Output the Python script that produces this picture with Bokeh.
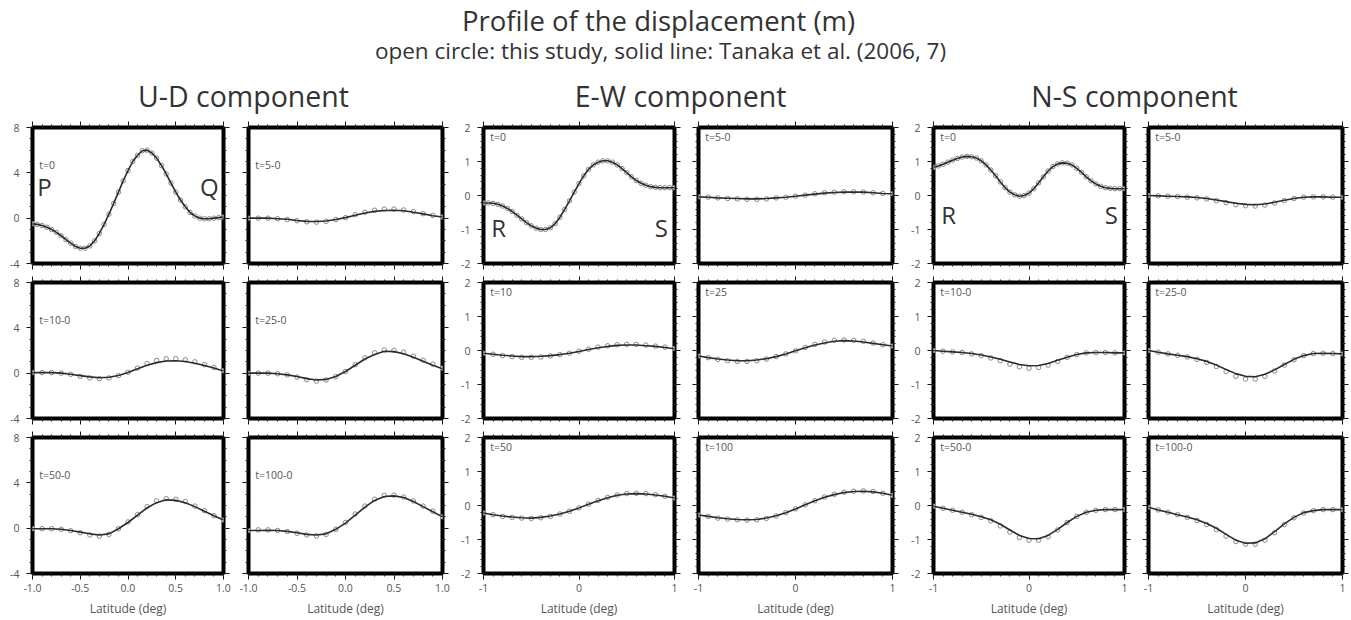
import numpy as np
from bokeh.plotting import figure
from bokeh.models import LinearAxis, FixedTicker, Range1d, PrintfTickFormatter
from bokeh.layouts import row, column
from bokeh.embed import file_html
from bokeh.resources import INLINE
from bokeh.core.properties import value

FONT = "Open Sans"

# ---------------- data ----------------
lat21 = [-1.0, -0.9, -0.8, -0.7, -0.6, -0.5, -0.4, -0.3, -0.2, -0.1, 0.0,
         0.1, 0.2, 0.3, 0.4, 0.5, 0.6, 0.7, 0.8, 0.9, 1.0]
lat41 = [-1.0, -0.95, -0.9, -0.85, -0.8, -0.75, -0.7, -0.65, -0.6, -0.55, -0.5,
         -0.45, -0.4, -0.35, -0.3, -0.25, -0.2, -0.15, -0.1, -0.05, 0.0,
         0.05, 0.1, 0.15, 0.2, 0.25, 0.3, 0.35, 0.4, 0.45, 0.5,
         0.55, 0.6, 0.65, 0.7, 0.75, 0.8, 0.85, 0.9, 0.95, 1.0]

# U-D component (m)
ud_t0 = [-0.5, -0.55, -0.65, -0.8, -1.0, -1.25, -1.55, -1.9, -2.2, -2.5, -2.65,
         -2.65, -2.45, -2.0, -1.35, -0.55, 0.35, 1.3, 2.3, 3.3, 4.2,
         5.0, 5.55, 5.95, 6.0, 5.75, 5.3, 4.65, 3.9, 3.1, 2.3,
         1.6, 1.0, 0.5, 0.2, 0.0, -0.05, -0.05, 0.0, 0.05, 0.1]
ud_t5_line = [0.0, 0.0, 0.0, -0.05, -0.1, -0.2, -0.28, -0.3, -0.25, -0.12, 0.05,
              0.25, 0.45, 0.6, 0.68, 0.7, 0.65, 0.52, 0.38, 0.22, 0.1]
ud_t5_obs = [0.0, 0.0, 0.0, -0.05, -0.12, -0.22, -0.32, -0.35, -0.28, -0.12, 0.05,
             0.3, 0.52, 0.7, 0.8, 0.8, 0.72, 0.58, 0.4, 0.25, 0.1]
ud_t10_line = [0.05, 0.05, 0.05, 0.0, -0.1, -0.22, -0.33, -0.4, -0.36, -0.2, 0.05,
               0.38, 0.7, 0.93, 1.07, 1.1, 1.03, 0.88, 0.68, 0.45, 0.2]
ud_t10_obs = [0.05, 0.05, 0.05, 0.0, -0.1, -0.28, -0.42, -0.48, -0.42, -0.22, 0.08,
              0.45, 0.85, 1.12, 1.27, 1.28, 1.18, 1.0, 0.75, 0.5, 0.22]
ud_t25_line = [0.0, 0.0, 0.0, -0.05, -0.15, -0.3, -0.48, -0.6, -0.55, -0.3, 0.15,
               0.7, 1.25, 1.65, 1.93, 1.9, 1.72, 1.4, 1.05, 0.7, 0.4]
ud_t25_obs = [0.0, 0.0, 0.0, -0.05, -0.15, -0.35, -0.58, -0.7, -0.6, -0.3, 0.15,
              0.75, 1.35, 1.8, 2.05, 2.02, 1.85, 1.5, 1.15, 0.8, 0.45]
ud_t50_line = [-0.05, -0.05, -0.05, -0.1, -0.2, -0.35, -0.5, -0.6, -0.5, -0.05, 0.5,
               1.15, 1.8, 2.25, 2.5, 2.45, 2.25, 1.9, 1.5, 1.1, 0.72]
ud_t50_obs = [-0.05, -0.05, -0.05, -0.1, -0.22, -0.4, -0.6, -0.7, -0.55, -0.05, 0.55,
              1.2, 1.9, 2.4, 2.6, 2.55, 2.35, 1.95, 1.55, 1.1, 0.72]
ud_t100_line = [-0.2, -0.2, -0.18, -0.2, -0.28, -0.4, -0.55, -0.6, -0.5, -0.1, 0.45,
                1.15, 1.85, 2.45, 2.8, 2.85, 2.7, 2.35, 1.9, 1.45, 1.0]
ud_t100_obs = [-0.2, -0.15, -0.15, -0.2, -0.3, -0.45, -0.6, -0.68, -0.55, -0.1, 0.5,
               1.25, 1.95, 2.55, 2.9, 2.92, 2.75, 2.4, 1.95, 1.5, 1.0]

# E-W component (m)
ew_t0 = [-0.22, -0.22, -0.23, -0.26, -0.31, -0.38, -0.47, -0.58, -0.69, -0.8, -0.89,
         -0.96, -1.0, -1.0, -0.95, -0.83, -0.64, -0.41, -0.16, 0.1, 0.35,
         0.58, 0.77, 0.9, 0.98, 1.02, 1.02, 0.98, 0.9, 0.79, 0.67,
         0.55, 0.44, 0.36, 0.3, 0.26, 0.24, 0.23, 0.23, 0.23, 0.23]
ew_t5_line = [-0.04, -0.05, -0.07, -0.08, -0.09, -0.1, -0.1, -0.09, -0.07, -0.05, -0.02,
              0.01, 0.04, 0.07, 0.09, 0.1, 0.1, 0.1, 0.08, 0.06, 0.05]
ew_t5_obs = [-0.04, -0.05, -0.07, -0.09, -0.1, -0.11, -0.11, -0.1, -0.07, -0.05, -0.02,
             0.01, 0.05, 0.08, 0.1, 0.11, 0.11, 0.1, 0.08, 0.06, 0.05]
ew_t10_line = [-0.08, -0.11, -0.14, -0.16, -0.18, -0.18, -0.17, -0.15, -0.12, -0.08, -0.03,
               0.03, 0.08, 0.12, 0.15, 0.16, 0.16, 0.14, 0.12, 0.09, 0.05]
ew_t10_obs = [-0.08, -0.11, -0.15, -0.18, -0.2, -0.2, -0.19, -0.16, -0.12, -0.08, -0.02,
              0.04, 0.1, 0.14, 0.17, 0.18, 0.18, 0.16, 0.13, 0.1, 0.06]
ew_t25_line = [-0.16, -0.21, -0.25, -0.28, -0.3, -0.3, -0.28, -0.24, -0.18, -0.1, -0.01,
               0.08, 0.16, 0.22, 0.27, 0.29, 0.28, 0.25, 0.21, 0.17, 0.13]
ew_t25_obs = [-0.16, -0.21, -0.26, -0.3, -0.32, -0.32, -0.3, -0.25, -0.18, -0.1, -0.01,
              0.09, 0.18, 0.25, 0.3, 0.31, 0.3, 0.27, 0.22, 0.17, 0.13]
ew_t50_line = [-0.22, -0.27, -0.31, -0.34, -0.36, -0.37, -0.35, -0.31, -0.25, -0.17, -0.07,
               0.04, 0.14, 0.23, 0.3, 0.34, 0.35, 0.34, 0.31, 0.27, 0.22]
ew_t50_obs = [-0.22, -0.27, -0.32, -0.35, -0.37, -0.38, -0.36, -0.32, -0.25, -0.17, -0.07,
              0.04, 0.15, 0.24, 0.31, 0.35, 0.36, 0.35, 0.32, 0.27, 0.22]
ew_t100_line = [-0.28, -0.32, -0.36, -0.39, -0.41, -0.42, -0.41, -0.37, -0.3, -0.21, -0.1,
                0.02, 0.14, 0.24, 0.32, 0.38, 0.41, 0.42, 0.4, 0.36, 0.3]
ew_t100_obs = [-0.28, -0.32, -0.37, -0.4, -0.42, -0.43, -0.42, -0.38, -0.31, -0.21, -0.1,
               0.02, 0.14, 0.25, 0.33, 0.39, 0.42, 0.43, 0.41, 0.36, 0.3]

# N-S component (m)
ns_t0 = [0.83, 0.87, 0.92, 0.98, 1.04, 1.09, 1.13, 1.15, 1.14, 1.1, 1.02,
         0.9, 0.75, 0.58, 0.4, 0.23, 0.1, 0.02, -0.02, 0.0, 0.07,
         0.2, 0.37, 0.55, 0.72, 0.85, 0.93, 0.96, 0.95, 0.9, 0.8,
         0.68, 0.55, 0.43, 0.34, 0.27, 0.23, 0.21, 0.2, 0.2, 0.2]
ns_t5_line = [0.0, -0.01, -0.02, -0.03, -0.04, -0.06, -0.09, -0.13, -0.18, -0.23, -0.26,
              -0.27, -0.25, -0.2, -0.14, -0.09, -0.05, -0.04, -0.04, -0.05, -0.05]
ns_t5_obs = [0.0, -0.01, -0.02, -0.03, -0.05, -0.07, -0.1, -0.15, -0.21, -0.27, -0.3,
             -0.31, -0.28, -0.22, -0.15, -0.09, -0.05, -0.04, -0.04, -0.05, -0.05]
ns_t10_line = [0.0, -0.02, -0.04, -0.06, -0.09, -0.13, -0.19, -0.26, -0.34, -0.41, -0.45,
               -0.44, -0.38, -0.29, -0.2, -0.12, -0.07, -0.06, -0.06, -0.07, -0.07]
ns_t10_obs = [0.0, -0.02, -0.04, -0.06, -0.1, -0.15, -0.22, -0.3, -0.4, -0.48, -0.52,
              -0.5, -0.43, -0.32, -0.2, -0.12, -0.07, -0.06, -0.06, -0.07, -0.07]
ns_t25_line = [0.0, -0.05, -0.1, -0.14, -0.18, -0.24, -0.32, -0.43, -0.56, -0.68, -0.76,
               -0.77, -0.7, -0.57, -0.41, -0.26, -0.15, -0.09, -0.08, -0.09, -0.1]
ns_t25_obs = [0.0, -0.05, -0.1, -0.14, -0.19, -0.26, -0.35, -0.47, -0.62, -0.76, -0.84,
              -0.84, -0.76, -0.6, -0.43, -0.27, -0.15, -0.09, -0.08, -0.09, -0.1]
ns_t50_line = [-0.02, -0.08, -0.14, -0.2, -0.26, -0.33, -0.42, -0.55, -0.72, -0.88, -0.97,
               -0.98, -0.88, -0.7, -0.5, -0.32, -0.2, -0.14, -0.12, -0.12, -0.12]
ns_t50_obs = [-0.02, -0.08, -0.14, -0.2, -0.27, -0.35, -0.45, -0.6, -0.78, -0.94, -1.02,
              -1.02, -0.92, -0.72, -0.5, -0.32, -0.2, -0.14, -0.12, -0.12, -0.12]
ns_t100_line = [-0.05, -0.13, -0.2, -0.27, -0.34, -0.42, -0.53, -0.67, -0.85, -1.02, -1.11,
                -1.1, -0.98, -0.77, -0.54, -0.35, -0.21, -0.15, -0.12, -0.12, -0.12]
ns_t100_obs = [-0.05, -0.13, -0.2, -0.27, -0.35, -0.44, -0.56, -0.71, -0.9, -1.06, -1.14,
               -1.14, -1.02, -0.8, -0.56, -0.36, -0.22, -0.15, -0.12, -0.12, -0.12]

# tick labels / texts
ud_yticks = [-4, 0, 4, 8]
ud_xticks = [-1.0, -0.5, 0.0, 0.5, 1.0]
hz_yticks = [-2, -1, 0, 1, 2]
hz_xticks = [-1, 0, 1]

title = "Profile of the displacement (m)"
subtitle = "open circle: this study, solid line: Tanaka et al. (2006, 7)"
comp_titles = ["U-D component", "E-W component", "N-S component"]

# ---------------- layout geometry ----------------
col_w = [235, 221, 230, 220, 230, 215]
col_lr = [(32, 12), (13, 14), (27, 12), (12, 14), (27, 12), (12, 9)]
row_h = [158, 155, 191]
row_tb = [(12, 10), (9, 10), (9, 46)]
HEADER_H = 115

LINE_C = "#2b2b2b"
CIRC_C = "#8a8a8a"
TXT_C = "#555555"


def make_axis(side, ticks, minor, fmt, labels, axis_label=None):
    ax = LinearAxis(ticker=FixedTicker(ticks=ticks, minor_ticks=minor),
                    formatter=PrintfTickFormatter(format=fmt))
    ax.axis_line_color = None
    ax.major_tick_line_color = "#111111"
    ax.major_tick_line_width = 1
    ax.major_tick_out = 6
    ax.major_tick_in = 0
    ax.minor_tick_line_color = "#222222"
    ax.minor_tick_line_width = 1
    ax.minor_tick_out = 3
    ax.minor_tick_in = 0
    if labels:
        ax.major_label_text_font = FONT
        ax.major_label_text_font_size = "10.5px"
        ax.major_label_text_color = TXT_C
        ax.major_label_standoff = 4 if side == "below" else 7
    else:
        ax.major_label_text_font_size = "1px"
        ax.major_label_text_color = None
        ax.major_label_standoff = 0
    if axis_label:
        ax.axis_label = axis_label
        ax.axis_label_text_font = FONT
        ax.axis_label_text_font_size = "12px"
        ax.axis_label_text_font_style = "normal"
        ax.axis_label_text_color = TXT_C
        ax.axis_label_standoff = 5
    return ax


comp_cfg = {
    "UD": dict(yr=(-4, 8), yt=ud_yticks, ym=list(np.arange(-4, 8.01, 1.0)),
               xt=ud_xticks, xfmt="%.1f", yfmt="%d", label_y=4.7),
    "EW": dict(yr=(-2, 2), yt=hz_yticks, ym=list(np.round(np.arange(-2, 2.01, 0.2), 2)),
               xt=hz_xticks, xfmt="%d", yfmt="%d", label_y=1.72),
    "NS": dict(yr=(-2, 2), yt=hz_yticks, ym=list(np.round(np.arange(-2, 2.01, 0.2), 2)),
               xt=hz_xticks, xfmt="%d", yfmt="%d", label_y=1.72),
}
xminor = list(np.round(np.arange(-1, 1.001, 0.1), 2))

panels = [
    ("UD", [("t=0", lat41, ud_t0, lat41, ud_t0),
            ("t=10-0", lat21, ud_t10_line, lat21, ud_t10_obs),
            ("t=50-0", lat21, ud_t50_line, lat21, ud_t50_obs)]),
    ("UD", [("t=5-0", lat21, ud_t5_line, lat21, ud_t5_obs),
            ("t=25-0", lat21, ud_t25_line, lat21, ud_t25_obs),
            ("t=100-0", lat21, ud_t100_line, lat21, ud_t100_obs)]),
    ("EW", [("t=0", lat41, ew_t0, lat41, ew_t0),
            ("t=10", lat21, ew_t10_line, lat21, ew_t10_obs),
            ("t=50", lat21, ew_t50_line, lat21, ew_t50_obs)]),
    ("EW", [("t=5-0", lat21, ew_t5_line, lat21, ew_t5_obs),
            ("t=25", lat21, ew_t25_line, lat21, ew_t25_obs),
            ("t=100", lat21, ew_t100_line, lat21, ew_t100_obs)]),
    ("NS", [("t=0", lat41, ns_t0, lat41, ns_t0),
            ("t=10-0", lat21, ns_t10_line, lat21, ns_t10_obs),
            ("t=50-0", lat21, ns_t50_line, lat21, ns_t50_obs)]),
    ("NS", [("t=5-0", lat21, ns_t5_line, lat21, ns_t5_obs),
            ("t=25-0", lat21, ns_t25_line, lat21, ns_t25_obs),
            ("t=100-0", lat21, ns_t100_line, lat21, ns_t100_obs)]),
]

big_letters = {
    (0, 0): [("P", -0.95, 2.8, "left"), ("Q", 0.95, 2.8, "right")],
    (2, 0): [("R", -0.92, -0.95, "left"), ("S", 0.93, -0.95, "right")],
    (4, 0): [("R", -0.92, -0.55, "left"), ("S", 0.93, -0.55, "right")],
}

columns = []
for ci, (comp, rows_) in enumerate(panels):
    cfg = comp_cfg[comp]
    figs = []
    for ri, (lab, lx, ly, ox, oy) in enumerate(rows_):
        L, R = col_lr[ci]
        T, B = row_tb[ri]
        p = figure(width=col_w[ci], height=row_h[ri], title=None,
                   x_range=Range1d(-1, 1), y_range=Range1d(*cfg["yr"]),
                   x_axis_type=None, y_axis_type=None,
                   output_backend="svg", toolbar_location=None,
                   min_border_left=L, min_border_right=R,
                   min_border_top=T, min_border_bottom=B)
        p.outline_line_color = "black"
        p.outline_line_width = 4
        p.outline_line_alpha = 1.0
        p.background_fill_color = "white"
        p.border_fill_color = "white"

        first_col = (ci % 2 == 0)
        last_row = (ri == 2)
        p.add_layout(make_axis("left", cfg["yt"], cfg["ym"], cfg["yfmt"], first_col), "left")
        p.add_layout(make_axis("right", cfg["yt"], cfg["ym"], cfg["yfmt"], False), "right")
        p.add_layout(make_axis("above", cfg["xt"], xminor, cfg["xfmt"], False), "above")
        p.add_layout(make_axis("below", cfg["xt"], xminor, cfg["xfmt"], last_row,
                               "Latitude (deg)" if last_row else None), "below")

        p.scatter(ox, oy, marker="circle", size=4.5, line_color=CIRC_C,
                  fill_color="white", line_width=1)
        p.line(lx, ly, line_color=LINE_C, line_width=1.6)

        p.text(x=[-0.93], y=[cfg["label_y"]], text=[lab], text_font=value(FONT),
               text_font_size="10.5px", text_color=TXT_C,
               text_baseline="middle", text_align="left")
        for (letter, x, y, al) in big_letters.get((ci, ri), []):
            p.text(x=[x], y=[y], text=[letter], text_font=value(FONT),
                   text_font_size="24px", text_color="#333333",
                   text_baseline="middle", text_align=al)
        figs.append(p)
    columns.append(column(*figs, spacing=0))

# header
h = figure(width=1351, height=HEADER_H, title=None,
           x_range=Range1d(0, 1351), y_range=Range1d(HEADER_H, 0),
           x_axis_type=None, y_axis_type=None, output_backend="svg",
           toolbar_location=None, min_border=0)
h.outline_line_color = None
h.text(x=[658], y=[20], text=[title], text_font=value(FONT), text_font_size="27.5px",
       text_color="#333333", text_align="center", text_baseline="alphabetic")
h.text(x=[660], y=[50], text=[subtitle], text_font=value(FONT), text_font_size="22.5px",
       text_color="#333333", text_align="center", text_baseline="alphabetic")
h.text(x=[243, 680, 1134], y=[95, 95, 95], text=comp_titles, text_font=value(FONT),
       text_font_size="28.5px", text_color="#333333", text_align="center",
       text_baseline="alphabetic")

layout = column(h, row(*columns, spacing=0), spacing=0)

open("out.html", "w").write(file_html(layout, INLINE))
